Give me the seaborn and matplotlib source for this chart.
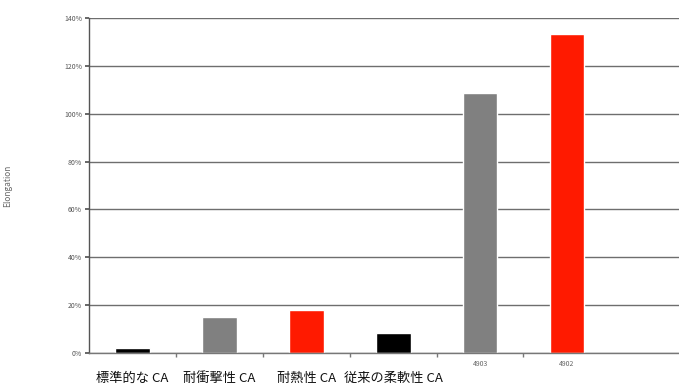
import matplotlib
matplotlib.use("Agg")
import matplotlib.pyplot as plt
from matplotlib.ticker import PercentFormatter, FixedLocator
import matplotlib.transforms as mtransforms
import seaborn as sns
import pandas as pd

categories = ["標準的な CA", "耐衝撃性 CA", "耐熱性 CA", "従来の柔軟性 CA", "4903", "4902"]
elongation = [2, 15, 18, 8.3, 108.5, 133.5]
bar_colors = ["#000000", "#808080", "#ff1a00", "#000000", "#808080", "#ff1a00"]
y_ticks = [0, 20, 40, 60, 80, 100, 120, 140]

sns.set_theme(style="white")
plt.rcParams["font.family"] = ["Noto Sans CJK JP", "DejaVu Sans"]

df = pd.DataFrame({"cat": categories, "val": elongation})

fig = plt.figure(figsize=(6.79, 3.85), dpi=100)
ax = fig.add_axes([89 / 679, 32 / 385, 590 / 679, 335 / 385])

sns.barplot(data=df, x="cat", y="val", hue="cat", palette=bar_colors,
            width=0.4, legend=False, ax=ax, saturation=1)

ax.set_ylim(0, 140)
ax.set_xlim(-0.5, 6.29)
ax.yaxis.set_major_locator(FixedLocator(y_ticks))
ax.yaxis.set_major_formatter(PercentFormatter(decimals=0))
ax.grid(axis="y", color="#6e6e6e", linewidth=1.0)
ax.set_axisbelow(True)

for s in ["top", "right"]:
    ax.spines[s].set_visible(False)
ax.spines["left"].set_color("#555555")
ax.spines["left"].set_linewidth(1.0)
ax.spines["bottom"].set_color("#777777")
ax.spines["bottom"].set_linewidth(1.0)

ax.tick_params(axis="y", labelsize=5, labelcolor="#555555", length=3,
               color="#555555", left=True, pad=2)
# x ticks at category boundaries
ax.set_xticks([i + 0.5 for i in range(len(categories) - 1)], minor=True)
ax.tick_params(axis="x", which="minor", length=3, color="#777777", bottom=True)
ax.set_xticks(range(len(categories)))
ax.set_xticklabels(["" if i < 4 else c for i, c in enumerate(categories)])
ax.tick_params(axis="x", which="major", length=0, labelsize=5,
               labelcolor="#666666", pad=5)

trans = mtransforms.blended_transform_factory(ax.transData, ax.transAxes)
for i, c in enumerate(categories[:4]):
    ax.text(i, -0.075, c, transform=trans, ha="center", va="center",
            fontsize=9.5, color="#111111")

ax.set_xlabel("")
ax.set_ylabel("Elongation", fontsize=6, color="#666666")
ax.yaxis.set_label_coords(-12 / 590, 0.5)
ax.yaxis.label.set_transform(mtransforms.blended_transform_factory(
    mtransforms.IdentityTransform(), ax.transAxes))
ax.yaxis.label.set_position((12, 0.5))

fig.savefig("out.png", dpi=100)
